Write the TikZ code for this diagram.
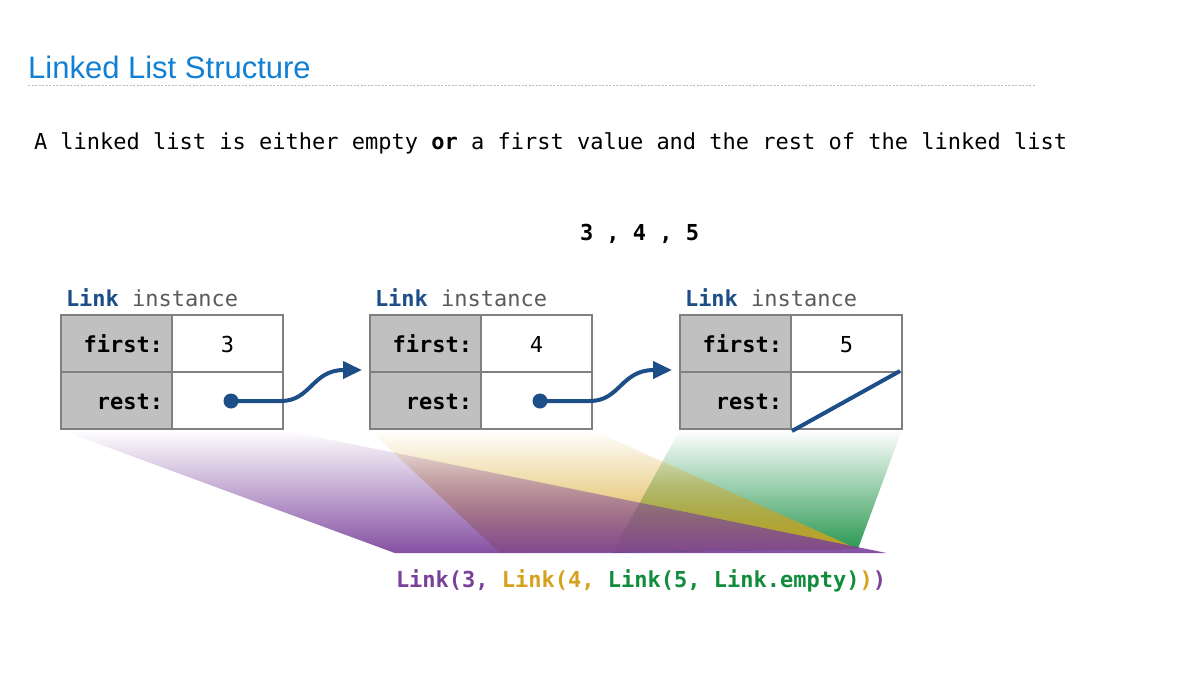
\documentclass[tikz,border=0pt]{standalone}
\usepackage{fontspec}
\usetikzlibrary{arrows.meta,fadings}
\newfontfamily\monof{DejaVu Sans Mono}
\newfontfamily\titlef{Liberation Sans}
\definecolor{titleblue}{RGB}{16,128,212}
\definecolor{ptrblue}{RGB}{30,78,136}
\definecolor{cellgray}{RGB}{192,192,192}
\definecolor{edgegray}{RGB}{128,128,128}
\definecolor{instgray}{RGB}{90,90,90}
\definecolor{lpurple}{RGB}{122,65,155}
\definecolor{lgold}{RGB}{214,162,30}
\definecolor{lgreen}{RGB}{16,140,60}
\tikzfading[name=fadeup, top color=transparent!100, bottom color=transparent!8]
\begin{document}
\begin{tikzpicture}[x=1pt,y=-1pt,
  txt/.style={inner sep=0pt, outer sep=0pt, font=\monof\fontsize{22}{26}\selectfont},
  lcell/.style={draw=edgegray, line width=1.5pt, fill=cellgray, minimum width=111pt, minimum height=57pt, inner sep=0pt, outer sep=0pt},
  rcell/.style={draw=edgegray, line width=1.5pt, fill=white, minimum width=111pt, minimum height=57pt, inner sep=0pt, outer sep=0pt},
  ptr/.style={draw=ptrblue, line width=4pt, -{Triangle[length=19pt,width=17pt]}},
  dot/.style={circle, fill=ptrblue, minimum size=15pt, inner sep=0pt}
]
\useasboundingbox (0,0) rectangle (1194,689);

% title
\node[anchor=base west, inner sep=0pt, font=\titlef\fontsize{31}{36}\selectfont, text=titleblue] (title) at (28,78) {Linked List Structure};
\draw[gray!55, line width=0.8pt, dash pattern=on 2pt off 1.5pt] (28,85) -- (1035,85);

\node[txt, anchor=base west] (intro) at (34,149) {A linked list is either empty \textbf{or} a first value and the rest of the linked list};
\node[txt, anchor=base west, font=\monof\bfseries\fontsize{22}{26}\selectfont] (seq) at (580,240) {3 , 4 , 5};

% fans
\fill[lgreen, path fading=fadeup] (680,430) -- (902,430) -- (858,549) -- (612,553) -- cycle;
\fill[lgold, path fading=fadeup] (370,430) -- (592,430) -- (858,549) -- (500,553) -- cycle;
\fill[lpurple, path fading=fadeup] (61,430) -- (283,430) -- (887,553) -- (395,553) -- cycle;

% boxes
\foreach \i/\dx/\v in {1/0/3, 2/309/4, 3/619/5} {
  \node[txt, anchor=base west] (h\i) at (66+\dx,306) {\textcolor{ptrblue}{\textbf{Link}} \textcolor{instgray}{instance}};
  \node[lcell] (fl\i) at (116.5+\dx,343.5) {};
  \node[rcell] (fr\i) at (227.5+\dx,343.5) {};
  \node[lcell] (rl\i) at (116.5+\dx,400.5) {};
  \node[rcell] (rr\i) at (227.5+\dx,400.5) {};
  \node[txt, anchor=base east, font=\monof\bfseries\fontsize{22}{26}\selectfont] (fk\i) at (163+\dx,352) {first:};
  \node[txt, anchor=base east, font=\monof\bfseries\fontsize{22}{26}\selectfont] (rk\i) at (163+\dx,409) {rest:};
  \node[txt, anchor=base] (fv\i) at (227.5+\dx,352) {\v};
}

% pointers
\node[dot] (d1) at (231,401) {};
\node[dot] (d2) at (540,401) {};
\coordinate (t1) at ([xshift=-8pt,yshift=2pt]fl2.south west);
\coordinate (t2) at ([xshift=-8pt,yshift=2pt]fl3.south west);
\draw[ptr] (d1.center) -- ([xshift=50pt]d1.center) .. controls ([xshift=80pt]d1.center) and (312,370) .. (t1);
\draw[ptr] (d2.center) -- ([xshift=50pt]d2.center) .. controls ([xshift=80pt]d2.center) and (621,370) .. (t2);
\draw[ptrblue, line width=4pt] ([xshift=1pt,yshift=-2pt]rr3.south west) -- ([xshift=-2pt,yshift=1pt]rr3.north east);

% code
\node[txt, anchor=base west, font=\monof\bfseries\fontsize{22}{26}\selectfont] (code) at (396,587) {\textcolor{lpurple}{Link(3, }\textcolor{lgold}{Link(4, }\textcolor{lgreen}{Link(5, Link.empty)}\textcolor{lgold}{)}\textcolor{lpurple}{)}};
\end{tikzpicture}
\end{document}
